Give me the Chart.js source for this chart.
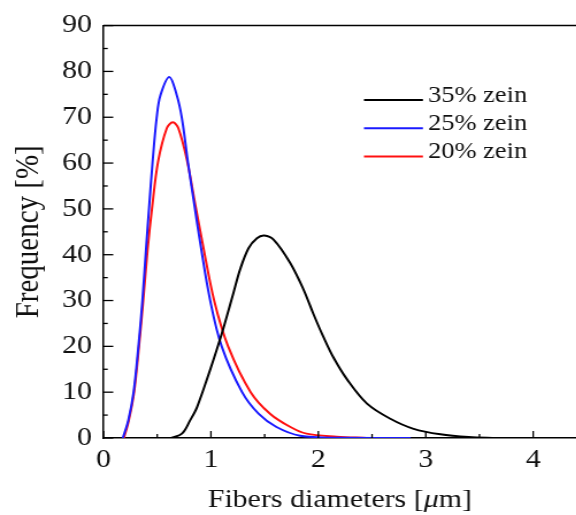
<!DOCTYPE html>
<html>
<head>
<meta charset="utf-8">
<title>Fiber diameter distribution</title>
<script src="https://cdn.jsdelivr.net/npm/chart.js@4.4.1/dist/chart.umd.min.js"></script>
<style>
  html, body { margin: 0; padding: 0; background: #fff; overflow: hidden; }
  /* the figure is drawn narrow and widened a little, like the printed plot */
  #wrap { width: 501px; height: 515px; transform: scaleX(1.15); transform-origin: 0 0; }
</style>
</head>
<body>
<div id="wrap"><canvas id="chart" width="501" height="515"></canvas></div>
<script>
// fiber diameter distributions (x in µm, y in %)
const zein35X = [0.63, 0.73, 0.806, 0.87, 0.99, 1.10, 1.21, 1.272, 1.35, 1.428, 1.496, 1.583, 1.738, 1.862, 1.955, 2.048, 2.142, 2.267, 2.453, 2.67, 2.887, 3.136, 3.4, 3.66];
const zein35Y = [0, 0.95, 3.85, 6.7, 14.7, 22.7, 31.7, 36.8, 41.4, 43.6, 44.2, 43.3, 38.2, 32.4, 27.0, 22.0, 17.5, 12.8, 7.5, 4.2, 2.0, 0.8, 0.2, 0];

const zein25X = [0.18, 0.23, 0.28, 0.325, 0.362, 0.40, 0.424, 0.457, 0.495, 0.53, 0.613, 0.682, 0.729, 0.785, 0.85, 0.898, 0.993, 1.10, 1.29, 1.443, 1.61, 1.83, 2.2, 2.86];
const zein25Y = [0, 3.8, 10, 20, 30, 42.6, 50.2, 60.3, 69.9, 74.8, 78.8, 74.8, 69.9, 60.3, 50.2, 42.9, 30, 20, 10, 5.3, 2.4, 0.5, 0.05, 0];

const zein20X = [0.19, 0.235, 0.285, 0.33, 0.37, 0.41, 0.452, 0.508, 0.589, 0.645, 0.697, 0.78, 0.86, 0.92, 1.03, 1.16, 1.37, 1.55, 1.74, 1.89, 2.17, 2.45];
const zein20Y = [0, 3.8, 10, 20, 30, 41, 50.2, 60.3, 67.6, 68.9, 67.6, 60.3, 50.2, 42.8, 30, 20, 10, 5.3, 2.4, 0.95, 0.3, 0];

const seriesLabels = ['35% zein', '25% zein', '20% zein'];
const seriesColors = ['#000000', '#1a1aff', '#ff1010'];

const xTitleParts = [['Fibers diameters [', 'normal'], ['μ', 'italic'], ['m]', 'normal']];
const yTitle = 'Frequency [%]';

function toPoints(xs, ys) {
  return xs.map((x, i) => ({ x: x, y: ys[i] }));
}

const serif = '"Liberation Serif", "Times New Roman", Times, serif';

// inward tick marks and the top frame line
const frameTicks = {
  id: 'frameTicks',
  afterDatasetsDraw(chart) {
    const { ctx, chartArea } = chart;
    const xs = chart.scales.x;
    const ys = chart.scales.y;
    ctx.save();
    ctx.strokeStyle = '#000';
    ctx.lineWidth = 1.5;
    ctx.beginPath();
    ctx.moveTo(chartArea.left, chartArea.top);
    ctx.lineTo(chartArea.right + 2, chartArea.top);
    ctx.stroke();

    ctx.lineWidth = 1.3;
    for (let v = 0; v <= xs.max + 1e-9; v += 0.5) {
      const px = xs.getPixelForValue(v);
      const len = Math.abs(v - Math.round(v)) < 1e-6 ? 7 : 4;
      ctx.beginPath();
      ctx.moveTo(px, chartArea.bottom);
      ctx.lineTo(px, chartArea.bottom - len);
      ctx.stroke();
    }
    for (let v = 0; v <= ys.max; v += 5) {
      const py = ys.getPixelForValue(v);
      const len = v % 10 === 0 ? 8.5 : 3.7;
      ctx.beginPath();
      ctx.moveTo(chartArea.left, py);
      ctx.lineTo(chartArea.left + len, py);
      ctx.stroke();
    }
    ctx.restore();
  }
};

// x axis title, with the mu in italics
const xAxisTitle = {
  id: 'xAxisTitle',
  afterDraw(chart, args, opts) {
    const { ctx, chartArea } = chart;
    ctx.save();
    ctx.fillStyle = '#111';
    ctx.textBaseline = 'alphabetic';
    ctx.textAlign = 'left';
    const widths = xTitleParts.map(([text, style]) => {
      ctx.font = style + ' ' + opts.fontSize + 'px ' + serif;
      return ctx.measureText(text).width;
    });
    const total = widths.reduce((a, b) => a + b, 0);
    let x = (chartArea.left + chartArea.right) / 2 - total / 2;
    xTitleParts.forEach(([text, style], i) => {
      ctx.font = style + ' ' + opts.fontSize + 'px ' + serif;
      ctx.fillText(text, x, opts.baseline);
      x += widths[i];
    });
    ctx.restore();
  }
};

// legend drawn inside the plot
const insideLegend = {
  id: 'insideLegend',
  afterDraw(chart, args, opts) {
    const { ctx } = chart;
    ctx.save();
    ctx.font = opts.fontSize + 'px ' + serif;
    ctx.textBaseline = 'alphabetic';
    ctx.textAlign = 'left';
    chart.data.datasets.forEach((ds, i) => {
      const y = opts.y + i * opts.rowHeight;
      ctx.strokeStyle = ds.borderColor;
      ctx.lineWidth = 2;
      ctx.beginPath();
      ctx.moveTo(opts.x, y);
      ctx.lineTo(opts.x + opts.lineLength, y);
      ctx.stroke();
      ctx.fillStyle = '#111';
      ctx.fillText(ds.label, opts.x + opts.lineLength + opts.gap, y + 1.5);
    });
    ctx.restore();
  }
};

const seriesX = [zein35X, zein25X, zein20X];
const seriesY = [zein35Y, zein25Y, zein20Y];

function drawChart() {
  new Chart(document.getElementById('chart'), {
    type: 'line',
    data: {
      datasets: seriesLabels.map((label, i) => ({
        label: label,
        data: toPoints(seriesX[i], seriesY[i]),
        borderColor: seriesColors[i],
        borderWidth: 2,
        pointRadius: 0,
        fill: false,
        tension: 0.35
      }))
    },
    options: {
      responsive: false,
      animation: false,
      devicePixelRatio: 1,
      layout: { padding: { top: 23, right: 0, bottom: 0, left: 0 } },
      plugins: {
        legend: { display: false },
        tooltip: { enabled: false },
        insideLegend: { x: 316.5, y: 100, rowHeight: 28.3, lineLength: 51.3, gap: 4.4, fontSize: 23 },
        xAxisTitle: { fontSize: 26, baseline: 507 }
      },
      scales: {
        x: {
          type: 'linear',
          min: 0,
          max: 4.4,
          grid: { display: false, drawTicks: false },
          border: { display: true, color: '#000', width: 1.5 },
          ticks: {
            stepSize: 1,
            includeBounds: false,
            padding: 7,
            color: '#111',
            font: { family: serif, size: 26 },
            maxRotation: 0
          },
          afterFit(scale) { scale.height = 77; }
        },
        y: {
          min: 0,
          max: 90,
          grid: { display: false, drawTicks: false },
          border: { display: true, color: '#000', width: 1.5 },
          ticks: {
            stepSize: 10,
            padding: 10,
            color: '#111',
            font: { family: serif, size: 26 }
          },
          title: {
            display: true,
            text: yTitle,
            color: '#111',
            font: { family: serif, size: 29 },
            padding: { top: 8, bottom: 0 }
          },
          afterFit(scale) { scale.width = 90; }
        }
      }
    },
    plugins: [frameTicks, xAxisTitle, insideLegend]
  });
}

Promise.all([
  document.fonts.load('26px "Liberation Serif"'),
  document.fonts.load('italic 26px "Liberation Serif"')
]).then(drawChart, drawChart);
</script>
</body>
</html>
